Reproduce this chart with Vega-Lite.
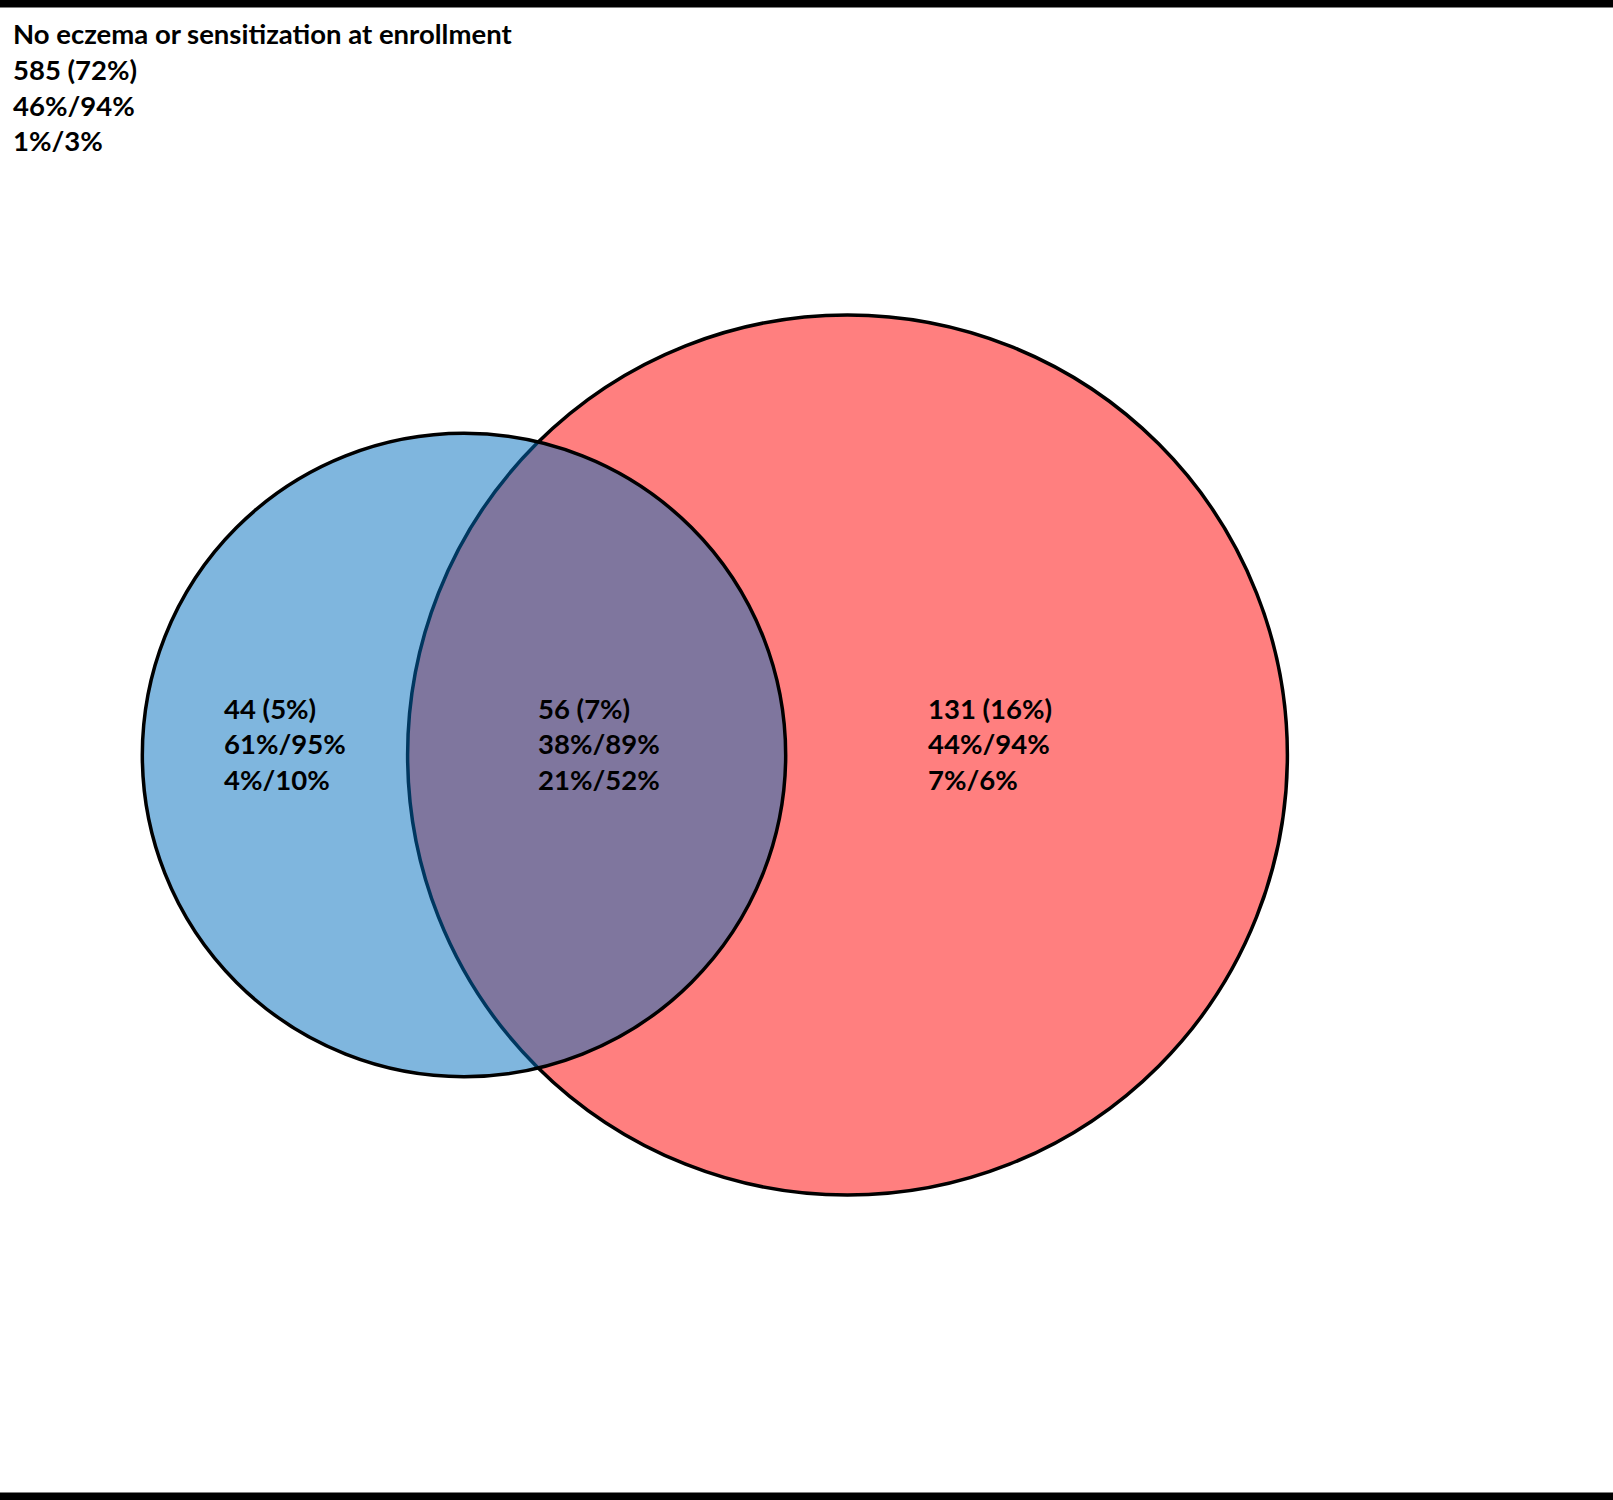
{
  "$schema": "https://vega.github.io/schema/vega-lite/v6.json",
  "autosize": {"type": "fit", "contains": "padding"},
  "width": 1613,
  "height": 1500,
  "padding": 0,
  "background": "white",
  "config": {"view": {"stroke": null}},
  "layer": [
    {
      "data": {"values": [
        {"edge": "top", "y0": 0, "y1": 7.5},
        {"edge": "bottom", "y0": 1492.5, "y1": 1500}
      ]},
      "mark": {"type": "rect", "color": "black"},
      "encoding": {
        "x": {"datum": 0, "type": "quantitative", "scale": {"domain": [0, 1613]}, "axis": null},
        "x2": {"datum": 1613},
        "y": {"field": "y0", "type": "quantitative", "scale": {"domain": [0, 1500], "reverse": true}, "axis": null},
        "y2": {"field": "y1"}
      }
    },
    {
      "data": {"values": [
        {"set": "Sensitization", "total": 187, "cx": 847.5, "cy": 755, "z": 1},
        {"set": "Eczema", "total": 100, "cx": 464, "cy": 755, "z": 2}
      ]},
      "mark": {"type": "circle", "opacity": 1, "fillOpacity": 0.5, "stroke": "black", "strokeWidth": 3.5, "strokeOpacity": 1},
      "encoding": {
        "x": {"field": "cx", "type": "quantitative", "scale": {"domain": [0, 1613]}, "axis": null},
        "y": {"field": "cy", "type": "quantitative", "scale": {"domain": [0, 1500], "reverse": true}, "axis": null},
        "size": {"field": "total", "type": "quantitative", "scale": {"type": "linear", "zero": true, "nice": false, "domain": [0, 187], "range": [0, 774000]}, "legend": null},
        "fill": {"field": "set", "type": "nominal", "scale": {"domain": ["Eczema", "Sensitization"], "range": ["#006dbd", "#ff0000"]}, "legend": null},
        "order": {"field": "z", "type": "quantitative"}
      }
    },
    {
      "data": {"values": [
        {"region": "Neither", "label": "No eczema or sensitization at enrollment\n585 (72%)\n46%/94%\n1%/3%", "lx": 13, "ly": 36},
        {"region": "Eczema only", "label": "44 (5%)\n61%/95%\n4%/10%", "lx": 224, "ly": 710.5},
        {"region": "Both", "label": "56 (7%)\n38%/89%\n21%/52%", "lx": 538, "ly": 710.5},
        {"region": "Sensitization only", "label": "131 (16%)\n44%/94%\n7%/6%", "lx": 928, "ly": 710.5}
      ]},
      "mark": {"type": "text", "align": "left", "baseline": "middle", "lineBreak": "\n", "lineHeight": 35.8, "font": "Lato", "fontWeight": "bold", "fontSize": 27.5, "color": "black"},
      "encoding": {
        "x": {"field": "lx", "type": "quantitative", "scale": {"domain": [0, 1613]}, "axis": null},
        "y": {"field": "ly", "type": "quantitative", "scale": {"domain": [0, 1500], "reverse": true}, "axis": null},
        "text": {"field": "label", "type": "nominal"}
      }
    }
  ]
}
